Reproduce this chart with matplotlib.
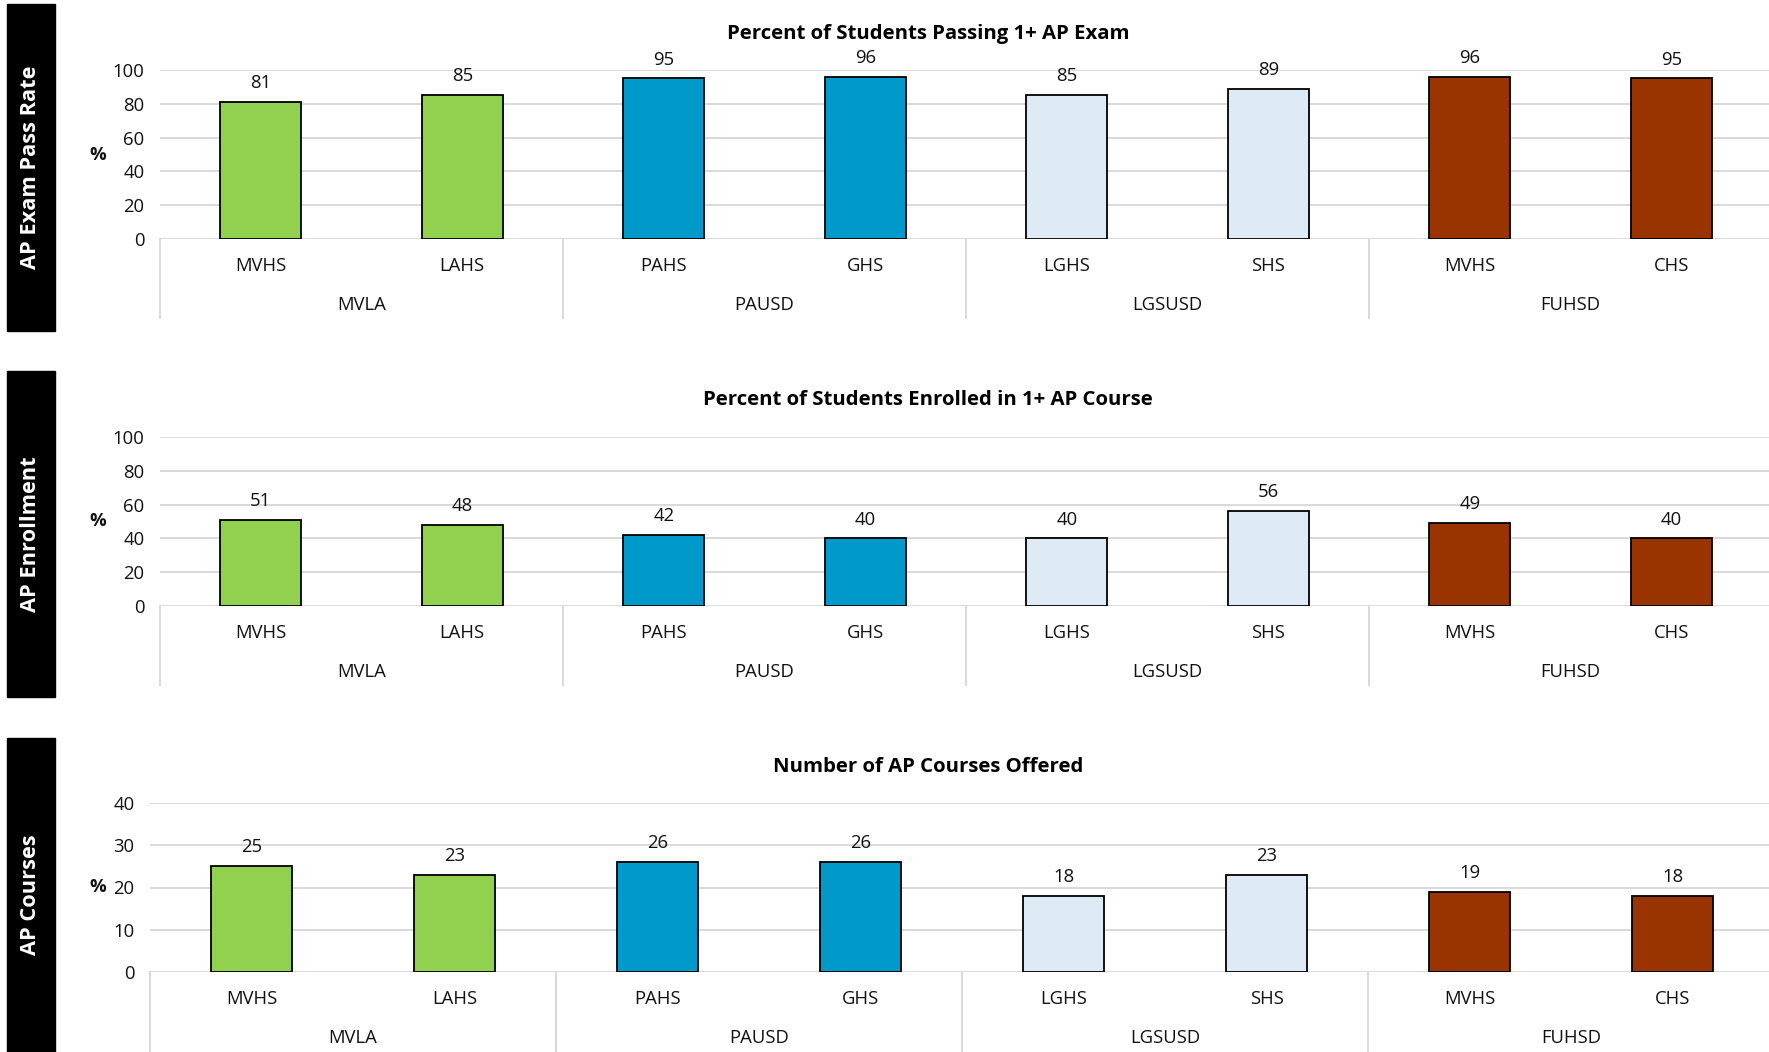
import matplotlib.pyplot as plt
from matplotlib.lines import Line2D

plt.rcParams['font.family'] = ['Open Sans', 'DejaVu Sans']

schools = ['MVHS', 'LAHS', 'PAHS', 'GHS', 'LGHS', 'SHS', 'MVHS', 'CHS']
districts = ['MVLA', 'PAUSD', 'LGSUSD', 'FUHSD']
district_colors = ['#92D050', '#0099CC', '#DEEBF7', '#993300']

pass_rate = [81, 85, 95, 96, 85, 89, 96, 95]
enrollment = [51, 48, 42, 40, 40, 56, 49, 40]
courses = [25, 23, 26, 26, 18, 23, 19, 18]

titles = ['Percent of Students Passing 1+ AP Exam',
          'Percent of Students Enrolled in 1+ AP Course',
          'Number of AP Courses Offered']
side_labels = ['AP Exam Pass Rate', 'AP Enrollment', 'AP Courses']
y_max = [100, 100, 40]
y_step = [20, 20, 10]

W, H = 1769, 1052
fig = plt.figure(figsize=(W / 100, H / 100), dpi=100)
FS = 13.3  # label font size


def px(x, y):
    # pixel coords (from top-left) -> figure fraction
    return x / W, 1 - y / H


# panel layout in pixels: left, top of y-range, bottom (zero line), width
panels = [(160, 70, 239, 1612), (160, 437, 606, 1612), (150, 803, 972, 1624)]
boxes = [(4, 331), (371, 697), (738, 1052)]
title_y = [33.5, 400, 767]

for i, values in enumerate([pass_rate, enrollment, courses]):
    left, top, bottom, width = panels[i]
    ax = fig.add_axes([left / W, 1 - bottom / H, width / W, (bottom - top) / H])
    colors = [district_colors[k // 2] for k in range(len(schools))]
    x = range(len(schools))
    ax.bar(x, values, width=0.4, color=colors, edgecolor='black', linewidth=1.3, zorder=3)
    ax.set_xlim(-0.5, len(schools) - 0.5)
    ax.set_ylim(0, y_max[i])
    ax.set_yticks(range(0, y_max[i] + 1, y_step[i]))
    ax.tick_params(axis='y', length=0, pad=11, labelsize=FS, labelcolor='#111111')
    ax.set_xticks([])
    for s in ax.spines.values():
        s.set_visible(False)
    ax.grid(axis='y', color='#D9D9D9', linewidth=1.4, zorder=0)
    ax.set_axisbelow(True)

    # value labels
    for xi, v in zip(x, values):
        ax.annotate(str(v), (xi, v), xytext=(0, 10), textcoords='offset points',
                    ha='center', va='baseline', fontsize=FS, color='#111111')

    # two-level category axis
    tr = ax.get_xaxis_transform()
    h = bottom - top
    for xi, name in zip(x, schools):
        ax.text(xi, -32 / h, name, transform=tr, ha='center', va='baseline',
                fontsize=FS, color='#111111')
    for g, name in enumerate(districts):
        ax.text(2 * g + 0.5, -71 / h, name, transform=tr, ha='center', va='baseline',
                fontsize=FS, color='#111111')
    for g in range(len(districts) + 1):
        ax.add_line(Line2D([2 * g - 0.5, 2 * g - 0.5], [0, -79 / h], transform=tr,
                           color='#D9D9D9', linewidth=1.4, clip_on=False))

    # "%" axis label
    fig.text(*px(98, (top + bottom) / 2), '%', ha='center', va='center',
             fontsize=FS, fontweight='bold', color='#111111')

    # title
    fig.text(*px(928, title_y[i]), titles[i], ha='center', va='center',
             fontsize=14.7, fontweight='bold', color='black')

    # black side label box
    y0, y1 = boxes[i]
    fig.patches.append(plt.Rectangle(px(7, y1), 48 / W, (y1 - y0) / H,
                                     transform=fig.transFigure, color='black'))
    fig.text(*px(31, (y0 + y1) / 2), side_labels[i], rotation=90, ha='center',
             va='center', fontsize=15.7, fontweight='bold', color='white')

fig.savefig('out.png', dpi=100)
